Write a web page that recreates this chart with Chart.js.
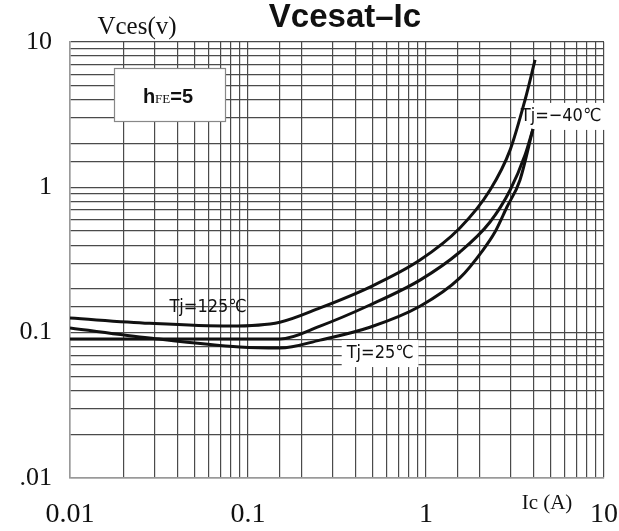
<!DOCTYPE html>
<html>
<head>
<meta charset="utf-8">
<script src="https://cdn.jsdelivr.net/npm/chart.js@4/dist/chart.umd.min.js"></script>
<style>
html,body{margin:0;padding:0;background:#fff;}
canvas{display:block;}
</style>
</head>
<body>
<canvas id="c" width="619" height="531"></canvas>
<script>
// ---- data ----
const xTickValues = [0.01, 0.1, 1, 10];
const xTickLabels = ['0.01', '0.1', '1', '10'];
const yTickValues = [0.01, 0.1, 1, 10];
const yTickLabels = ['.01', '0.1', '1', '10'];

// upper curve (highest at both ends)
const icA  = [0.01, 0.028, 0.079, 0.151, 0.254, 0.484, 0.925, 1.55, 2.29, 2.97, 3.6, 4.1];
const vceA = [0.126, 0.116, 0.111, 0.118, 0.148, 0.206, 0.316, 0.525, 0.958, 1.81, 3.99, 7.52];

// flat curve
const icB  = [0.01, 0.05, 0.151, 0.254, 0.484, 0.925, 1.55, 2.29, 2.97, 3.6, 3.99];
const vceB = [0.0904, 0.0904, 0.0904, 0.111, 0.155, 0.230, 0.359, 0.577, 0.958, 1.668, 2.52];

// lower curve
const icC  = [0.01, 0.028, 0.09, 0.151, 0.254, 0.484, 0.925, 1.55, 2.09, 2.44, 2.85, 3.37, 3.99];
const vceC = [0.1076, 0.0918, 0.0796, 0.0783, 0.0889, 0.109, 0.152, 0.238, 0.370, 0.492, 0.732, 1.12, 2.52];

const seriesNames = ['Tj=-40℃', 'Tj=125℃', 'Tj=25℃'];

const titleText = 'Vcesat\u2013Ic';
const yAxisTitle = 'Vces(v)';
const xAxisTitle = 'Ic (A)';

// curve labels anchored in data coordinates
const curveLabels = [
  { text: 'Tj=125℃', x: 0.0596, y: 0.150, bg: false },
  { text: 'Tj=25℃',  x: 0.552,  y: 0.0724, bg: true },
  { text: 'Tj=\u221240℃', x: 5.73, y: 3.10, bg: true }
];

function pts(xs, ys) { return xs.map((x, i) => ({ x: x, y: ys[i] })); }
function isDecade(v) { const l = Math.log10(v); return Math.abs(l - Math.round(l)) < 1e-6; }
function labelFor(v, vals, labels) {
  if (!isDecade(v)) return '';
  for (let i = 0; i < vals.length; i++) if (Math.abs(Math.log10(vals[i]) - Math.log10(v)) < 1e-6) return labels[i];
  return '';
}

const SERIF = '"Liberation Serif", "Times New Roman", serif';
const SANS = '"Liberation Sans", Arial, sans-serif';
const NARROW = '"Liberation Sans Narrow", "DejaVu Sans Condensed", sans-serif';

const decor = {
  id: 'decor',
  beforeDatasetsDraw(chart) {
    const ctx = chart.ctx, a = chart.chartArea;
    const xs = chart.scales.x, ys = chart.scales.y;
    ctx.save();
    // hFE box
    const bx = a.left + 44, by = a.top + 26, bw = 111, bh = 53;
    ctx.fillStyle = '#fff';
    ctx.fillRect(bx, by, bw, bh);
    ctx.strokeStyle = '#888';
    ctx.lineWidth = 1.2;
    ctx.strokeRect(bx + 0.5, by + 0.5, bw, bh);
    // white backgrounds of curve labels
    ctx.font = '18px ' + NARROW;
    curveLabels.forEach(l => {
      if (!l.bg) return;
      const px = xs.getPixelForValue(l.x), py = ys.getPixelForValue(l.y);
      const w = ctx.measureText(l.text).width + 10;
      ctx.fillStyle = '#fff';
      ctx.fillRect(px - w / 2, py - 13, w, 27);
    });
    ctx.restore();
  },
  afterDatasetsDraw(chart) {
    const ctx = chart.ctx, a = chart.chartArea;
    const xs = chart.scales.x, ys = chart.scales.y;
    ctx.save();
    ctx.fillStyle = '#111';
    // title
    ctx.font = 'bold 33px ' + SANS;
    ctx.textAlign = 'center';
    ctx.textBaseline = 'middle';
    ctx.fillText(titleText, 345, 18);
    // y axis title
    ctx.font = '25px ' + SERIF;
    ctx.fillText(yAxisTitle, 137, 27);
    // x axis title
    ctx.font = '21px ' + SERIF;
    ctx.fillText(xAxisTitle, 547, 503);
    // hFE text
    const cx = a.left + 98, cy = a.top + 54;
    ctx.textAlign = 'left';
    ctx.textBaseline = 'alphabetic';
    ctx.font = 'bold 20px ' + SANS;
    const wH = ctx.measureText('h').width;
    ctx.font = '13px ' + SERIF;
    const wFE = ctx.measureText('FE').width;
    ctx.font = 'bold 20px ' + SANS;
    const wEq = ctx.measureText('=5').width;
    let sx = cx - (wH + wFE + wEq) / 2;
    const base = cy + 7;
    ctx.fillText('h', sx, base); sx += wH;
    ctx.font = '13px ' + SERIF;
    ctx.fillText('FE', sx, base); sx += wFE;
    ctx.font = 'bold 20px ' + SANS;
    ctx.fillText('=5', sx, base);
    // curve labels
    ctx.font = '18px ' + NARROW;
    ctx.textAlign = 'center';
    ctx.textBaseline = 'middle';
    curveLabels.forEach(l => {
      ctx.fillText(l.text, xs.getPixelForValue(l.x), ys.getPixelForValue(l.y));
    });
    ctx.restore();
  }
};

const lineStyle = { borderColor: '#111', borderWidth: 3, pointRadius: 0, showLine: true, fill: false, cubicInterpolationMode: 'monotone' };

new Chart(document.getElementById('c'), {
  type: 'scatter',
  data: {
    datasets: [
      Object.assign({ label: seriesNames[0], data: pts(icA, vceA) }, lineStyle),
      Object.assign({ label: seriesNames[1], data: pts(icB, vceB) }, lineStyle),
      Object.assign({ label: seriesNames[2], data: pts(icC, vceC) }, lineStyle)
    ]
  },
  options: {
    responsive: false,
    animation: false,
    layout: { padding: { left: 0, top: 42, right: 15, bottom: 0 } },
    plugins: { legend: { display: false }, tooltip: { enabled: false }, title: { display: false } },
    scales: {
      x: {
        type: 'logarithmic', min: 0.01, max: 10,
        afterFit(s) { s.height = 53; s.paddingLeft = 0; s.paddingRight = 0; },
        grid: { color: '#4a4a4a', lineWidth: 1.2, drawTicks: false },
        border: { display: true, color: '#999', width: 1.5 },
        ticks: {
          autoSkip: false, maxRotation: 0, padding: 20, color: '#111',
          font: { family: SERIF, size: 28 },
          callback: v => labelFor(v, xTickValues, xTickLabels)
        }
      },
      y: {
        type: 'logarithmic', min: 0.01, max: 10,
        afterFit(s) { s.width = 70; s.paddingTop = 0; s.paddingBottom = 0; },
        grid: { color: '#4a4a4a', lineWidth: 1.2, drawTicks: false },
        border: { display: true, color: '#999', width: 1.5 },
        ticks: {
          autoSkip: false, padding: 18, color: '#111',
          font: { family: SERIF, size: 26 },
          callback: v => labelFor(v, yTickValues, yTickLabels)
        }
      }
    }
  },
  plugins: [decor]
});
</script>
</body>
</html>
